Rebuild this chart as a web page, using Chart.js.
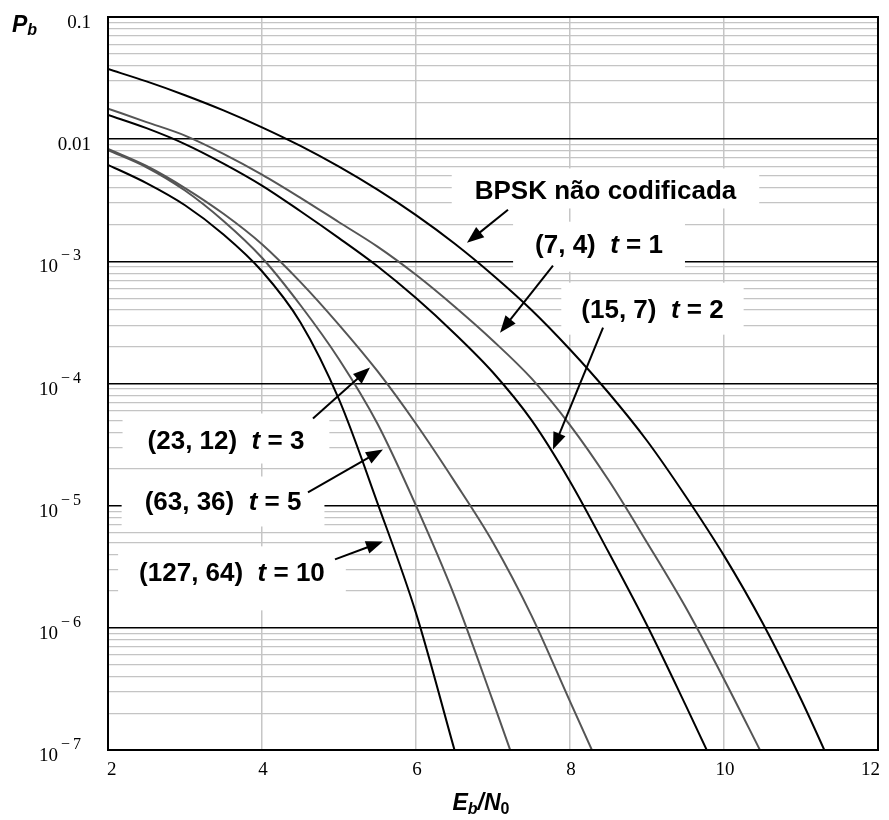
<!DOCTYPE html>
<html><head><meta charset="utf-8">
<script src="https://cdn.jsdelivr.net/npm/chart.js@4"></script>
<style>html,body{margin:0;padding:0;background:#fff}</style>
</head><body>
<canvas id="c" width="889" height="820"></canvas>
<script>
// ---- data ----
const ebn0 = [2,2.5,3,3.5,4,4.5,5,5.5,6,6.5,7,7.5,8,8.5,9,9.5,10,10.5,11,11.5];
const bpsk     = [0.0375,0.0297,0.0229,0.0172,0.0125,0.0088,0.00595,0.00386,0.00239,0.0014,7.7e-4,4.0e-4,1.9e-4,8.4e-5,3.4e-5,1.2e-5,3.9e-6,1.1e-6,2.6e-7,5.3e-8];
const code74   = [0.0178,0.0138,0.0107,0.00759,0.00513,0.00331,0.00209,0.00132,7.76e-4,4.27e-4,2.24e-4,1.10e-4,4.57e-5,1.62e-5,5.0e-6,1.48e-6,3.8e-7,9.1e-8];
const code157  = [0.0158,0.0123,0.00912,0.00631,0.00417,0.00257,0.00155,9.12e-4,5.01e-4,2.57e-4,1.23e-4,5.01e-5,1.58e-5,4.17e-6,1.05e-6,2.34e-7,5.0e-8];
const code2312 = [0.00832,0.00603,0.00398,0.00245,0.00138,6.76e-4,3.02e-4,1.26e-4,4.68e-5,1.58e-5,5.0e-6,1.26e-6,2.5e-7,5e-8];
const code6336 = [0.00813,0.00589,0.0038,0.00214,0.00107,4.37e-4,1.58e-4,4.68e-5,1.0e-5,1.82e-6,2.5e-7,3.2e-8];
const code12764= [0.00617,0.00437,0.00288,0.00166,8.3e-4,3.16e-4,7.4e-5,1.05e-5,1.32e-6,1.0e-7];

const xTicks = [2,4,6,8,10,12];
const yTickValues = [0.1,0.01,1e-3,1e-4,1e-5,1e-6,1e-7];
const yTickBase = ['0.1','0.01','10','10','10','10','10'];
const yTickExp  = ['','','\u22123','\u22124','\u22125','\u22126','\u22127'];

const seriesNames = ['BPSK não codificada','(7, 4) t = 1','(15, 7) t = 2','(23, 12) t = 3','(63, 36) t = 5','(127, 64) t = 10'];
const seriesData = [bpsk, code74, code157, code2312, code6336, code12764];
const seriesColors = ['#000000','#555555','#000000','#555555','#555555','#000000'];

// annotation labels: [text segments], anchor (dB, log10 Pb), arrow from/to (dB, log10 Pb)
const annotations = [
  {seg:[['BPSK não codificada',0]], x:8.461, y:-2.428, padX:23, boxH:40, boxDy:-3, from:[7.195,-2.578], to:[6.662,-2.848]},
  {seg:[['(7, 4)  ',0],['t',1],[' = 1',0]], x:8.377, y:-2.872, padX:22, boxH:50, boxDy:1, from:[7.779,-3.036], to:[7.091,-3.584]},
  {seg:[['(15, 7)  ',0],['t',1],[' = 2',0]], x:9.071, y:-3.404, padX:20, boxH:52, boxDy:-2, from:[8.429,-3.543], to:[7.779,-4.540]},
  {seg:[['(23, 12)  ',0],['t',1],[' = 3',0]], x:3.532, y:-4.475, padX:25, boxH:50, boxDy:-3, from:[4.662,-4.287], to:[5.403,-3.870]},
  {seg:[['(63, 36)  ',0],['t',1],[' = 5',0]], x:3.494, y:-4.974, padX:23, boxH:50, boxDy:-1, from:[4.597,-4.892], to:[5.571,-4.540]},
  {seg:[['(127, 64)  ',0],['t',1],[' = 10',0]], x:3.610, y:-5.554, padX:21, boxH:64, boxDy:5, from:[4.948,-5.440], to:[5.571,-5.293]}
];

// horizontal grid values: 1..9 x each decade
const yGrid = [];
for (let e = -7; e <= -2; e++) for (let m = 1; m <= 9; m++) yGrid.push(+(m * Math.pow(10, e)).toPrecision(3));
yGrid.push(0.1);
const isDecade = v => Math.abs(Math.log10(v) - Math.round(Math.log10(v))) < 1e-6;

const datasets = seriesData.map((arr, i) => ({
  label: seriesNames[i],
  data: arr.map((v, j) => ({x: ebn0[j], y: v})),
  borderColor: seriesColors[i],
  borderWidth: 2,
  pointRadius: 0,
  fill: false,
  cubicInterpolationMode: 'monotone'
}));

const LABEL_FONT = '"Liberation Sans", Arial, sans-serif';
const SERIF = '"Liberation Serif", "Times New Roman", serif';

function segWidth(ctx, seg, size) {
  let w = 0;
  seg.forEach(([t, it]) => { ctx.font = (it ? 'italic ' : '') + 'bold ' + size + 'px ' + LABEL_FONT; w += ctx.measureText(t).width; });
  return w;
}

const deco = {
  id: 'deco',
  beforeDatasetsDraw(chart) {
    const ctx = chart.ctx, xs = chart.scales.x, ys = chart.scales.y;
    ctx.save();
    ctx.fillStyle = '#ffffff';
    annotations.forEach(a => {
      const cx = xs.getPixelForValue(a.x), cy = ys.getPixelForValue(Math.pow(10, a.y));
      const w = segWidth(ctx, a.seg, 26);
      ctx.fillRect(cx - w / 2 - a.padX, cy + a.boxDy - a.boxH / 2, w + 2 * a.padX, a.boxH);
    });
    ctx.restore();
  },
  afterDatasetsDraw(chart) {
    const ctx = chart.ctx, xs = chart.scales.x, ys = chart.scales.y, ca = chart.chartArea;
    ctx.save();
    // arrows
    ctx.strokeStyle = '#000'; ctx.fillStyle = '#000'; ctx.lineWidth = 2;
    annotations.forEach(a => {
      const x1 = xs.getPixelForValue(a.from[0]), y1 = ys.getPixelForValue(Math.pow(10, a.from[1]));
      const x2 = xs.getPixelForValue(a.to[0]), y2 = ys.getPixelForValue(Math.pow(10, a.to[1]));
      const ang = Math.atan2(y2 - y1, x2 - x1), L = 17, H = 6.5;
      const bx = x2 - L * Math.cos(ang), by = y2 - L * Math.sin(ang);
      ctx.beginPath(); ctx.moveTo(x1, y1); ctx.lineTo(bx + 2 * Math.cos(ang), by + 2 * Math.sin(ang)); ctx.stroke();
      ctx.beginPath(); ctx.moveTo(x2, y2);
      ctx.lineTo(bx + H * Math.sin(ang), by - H * Math.cos(ang));
      ctx.lineTo(bx - H * Math.sin(ang), by + H * Math.cos(ang));
      ctx.closePath(); ctx.fill();
    });
    // label texts
    ctx.textBaseline = 'middle'; ctx.textAlign = 'left';
    annotations.forEach(a => {
      const cx = xs.getPixelForValue(a.x), cy = ys.getPixelForValue(Math.pow(10, a.y));
      const w = segWidth(ctx, a.seg, 26);
      let x = cx - w / 2;
      a.seg.forEach(([t, it]) => {
        ctx.font = (it ? 'italic ' : '') + 'bold 26px ' + LABEL_FONT;
        ctx.fillText(t, x, cy);
        x += ctx.measureText(t).width;
      });
    });
    // frame
    ctx.strokeStyle = '#000'; ctx.lineWidth = 2;
    ctx.strokeRect(ca.left, ca.top, ca.right - ca.left, ca.bottom - ca.top);
    // y tick labels
    ctx.textBaseline = 'alphabetic';
    yTickValues.forEach((v, i) => {
      const py = ys.getPixelForValue(v);
      if (yTickExp[i] === '') {
        ctx.font = '19px ' + SERIF; ctx.textAlign = 'right';
        ctx.fillText(yTickBase[i], 91, py + 11);
      } else {
        ctx.font = '19px ' + SERIF; ctx.textAlign = 'left';
        ctx.fillText(yTickBase[i], 39, py + 11);
        ctx.font = '16px ' + SERIF;
        ctx.fillText(yTickExp[i][0], 61, py - 1);
        ctx.fillText(yTickExp[i].slice(1), 73, py - 1);
      }
    });
    // x tick labels
    ctx.font = '19px ' + SERIF;
    xTicks.forEach((v, i) => {
      const px = xs.getPixelForValue(v);
      if (i === 0) { ctx.textAlign = 'left'; ctx.fillText(String(v), px - 1, 775); }
      else if (i === xTicks.length - 1) { ctx.textAlign = 'right'; ctx.fillText(String(v), px + 2, 775); }
      else { ctx.textAlign = 'center'; ctx.fillText(String(v), px + 1, 775); }
    });
    // axis titles
    ctx.textAlign = 'left';
    ctx.font = 'italic bold 23px ' + LABEL_FONT;
    ctx.fillText('P', 12, 32);
    let pw = ctx.measureText('P').width;
    ctx.font = 'italic bold 16px ' + LABEL_FONT;
    ctx.fillText('b', 12 + pw, 35);

    const parts = [['E', 23, 0], ['b', 16, 4], ['/N', 23, 0], ['0', 16, 4]];
    let tw = 0;
    parts.forEach(([t, s]) => { ctx.font = 'italic bold ' + s + 'px ' + LABEL_FONT; tw += ctx.measureText(t).width; });
    let tx = 481 - tw / 2;
    parts.forEach(([t, s, dy]) => {
      ctx.font = (t === '0' ? '' : 'italic ') + 'bold ' + s + 'px ' + LABEL_FONT;
      ctx.fillText(t, tx, 810 + dy);
      tx += ctx.measureText(t).width;
    });
    ctx.restore();
  }
};

new Chart(document.getElementById('c'), {
  type: 'line',
  data: { datasets },
  options: {
    responsive: false,
    animation: false,
    devicePixelRatio: 1,
    layout: { padding: { left: 0, right: 11, top: 17, bottom: 0 } },
    plugins: { legend: { display: false }, tooltip: { enabled: false } },
    scales: {
      x: {
        type: 'linear', min: 2, max: 12,
        ticks: { stepSize: 2, display: false },
        grid: { color: '#c6c6c6', lineWidth: 1.5, drawTicks: false },
        border: { display: false },
        afterFit: s => { s.height = 70; }
      },
      y: {
        type: 'logarithmic', min: 1e-7, max: 0.1,
        afterBuildTicks: s => { s.ticks = yGrid.map(v => ({ value: v })); },
        ticks: { display: false },
        grid: {
          color: c => isDecade(c.tick.value) ? '#000000' : '#c4c4c4',
          lineWidth: c => isDecade(c.tick.value) ? 1.6 : 1.2,
          drawTicks: false
        },
        border: { display: false },
        afterFit: s => { s.width = 108; }
      }
    }
  },
  plugins: [deco]
});
</script>
</body></html>
